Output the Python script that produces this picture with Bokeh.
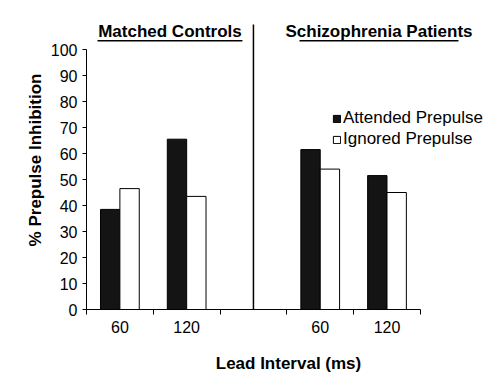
from bokeh.plotting import figure
from bokeh.models import (ColumnDataSource, FixedTicker, Label, Legend, LegendItem)
from bokeh.embed import file_html
from bokeh.resources import INLINE

# ---- data ----
groups = ["Matched Controls", "Schizophrenia Patients"]
lead_intervals = ["60", "120", "60", "120"]
slot_positions = [0.5, 1.5, 3.5, 4.5]      # category slots on the x axis (slot 2 left empty)
attended = [38.5, 65.5, 61.5, 51.5]
ignored = [46.5, 43.5, 54.0, 45.0]
y_ticks = list(range(0, 101, 10))
slot_edges = [0, 1, 2, 3, 4, 5]

FONT = "Liberation Sans"
offset = 0.145
bar_w = 0.29

src = ColumnDataSource(dict(
    x=slot_positions,
    xa=[s - offset for s in slot_positions],
    xi=[s + offset for s in slot_positions],
    attended=attended,
    ignored=ignored,
))

p = figure(width=496, height=375, x_range=(0, 6.05), y_range=(0, 115),
           output_backend="svg", toolbar_location=None,
           min_border_left=86, min_border_right=6,
           min_border_top=10, min_border_bottom=66)
p.outline_line_color = None
p.xgrid.visible = False
p.ygrid.visible = False
p.background_fill_color = "white"
p.border_fill_color = "white"

ra = p.vbar(x="xa", top="attended", width=bar_w, source=src,
            fill_color="#141414", line_color="black", line_width=1)
ri = p.vbar(x="xi", top="ignored", width=bar_w, source=src,
            fill_color="white", line_color="black", line_width=1)

# x axis: labels at slot centres, tick marks at slot edges
xa = p.xaxis[0]
xa.bounds = (0, 5)
xa.ticker = FixedTicker(ticks=slot_positions, minor_ticks=slot_edges)
xa.major_label_overrides = {s: lab for s, lab in zip(slot_positions, lead_intervals)}
xa.major_tick_out = 0
xa.major_tick_in = 0
xa.minor_tick_out = 5
xa.minor_tick_in = 0
xa.minor_tick_line_color = "black"
xa.axis_line_color = "black"
xa.major_label_standoff = 6
xa.major_label_text_font = FONT
xa.major_label_text_font_size = "16px"
xa.major_label_text_color = "black"
xa.axis_label = "Lead Interval (ms)"
xa.axis_label_text_font = FONT
xa.axis_label_text_font_style = "bold"
xa.axis_label_text_font_size = "17px"
xa.axis_label_text_color = "black"
xa.axis_label_standoff = 18

ya = p.yaxis[0]
ya.bounds = (0, 100)
ya.ticker = FixedTicker(ticks=y_ticks, minor_ticks=[])
ya.major_tick_out = 4
ya.major_tick_in = 0
ya.major_tick_line_color = "black"
ya.axis_line_color = "black"
ya.major_label_standoff = 5
ya.major_label_text_font = FONT
ya.major_label_text_font_size = "16px"
ya.major_label_text_color = "black"
ya.axis_label = "% Prepulse Inhibition"
ya.axis_label_text_font = FONT
ya.axis_label_text_font_style = "bold"
ya.axis_label_text_font_size = "17px"
ya.axis_label_text_color = "black"
ya.axis_label_standoff = 3

# divider between the two groups
p.segment(x0=[2.5], y0=[0], x1=[2.5], y1=[109.6], line_color="black", line_width=1.5)

# group titles, underlined
title_x = [1.25, 4.38]
title_half = [1.085, 1.19]
for gx, gh, name in zip(title_x, title_half, groups):
    p.add_layout(Label(x=gx, y=106.9, text=name, text_align="center",
                       text_baseline="middle", text_font=FONT,
                       text_font_style="bold", text_font_size="17px",
                       text_color="black"))
p.segment(x0=[gx - gh for gx, gh in zip(title_x, title_half)], y0=[103.4, 103.4],
          x1=[gx + gh for gx, gh in zip(title_x, title_half)], y1=[103.4, 103.4],
          line_color="black", line_width=1.5)

legend = Legend(items=[LegendItem(label="Attended Prepulse", renderers=[ra]),
                       LegendItem(label="Ignored Prepulse", renderers=[ri])],
                location=(246, 160), orientation="vertical",
                glyph_width=9, glyph_height=9, label_height=9, spacing=1,
                padding=0, margin=0, label_standoff=2,
                label_text_font=FONT, label_text_font_size="17px",
                label_text_color="black", label_text_baseline="middle",
                background_fill_alpha=0, border_line_color=None)
p.add_layout(legend)

open("out.html", "w").write(file_html(p, INLINE))
